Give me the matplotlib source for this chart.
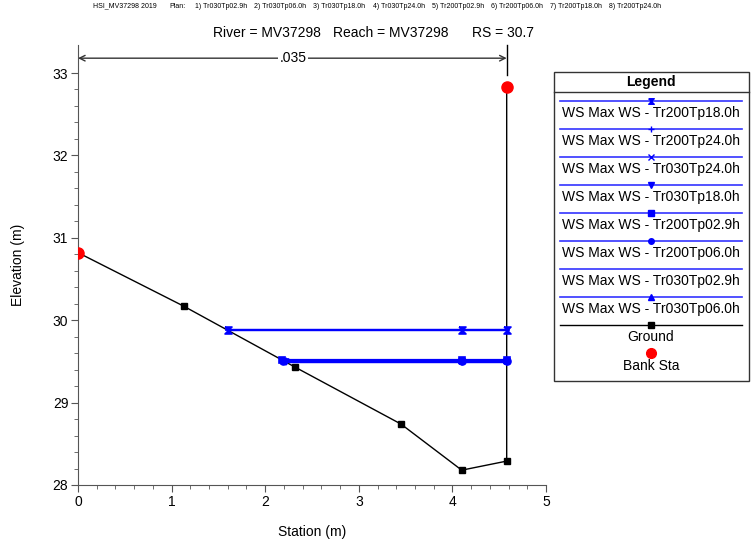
import matplotlib.pyplot as plt
from matplotlib.path import Path

plt.rcParams['font.family'] = ['Liberation Sans', 'DejaVu Sans']

# ---------------------------
# DATA
# ---------------------------
ground_sta = [0.0, 1.13, 2.32, 3.45, 4.10, 4.58, 4.58]
ground_elev = [30.82, 30.17, 29.43, 28.74, 28.18, 28.29, 32.83]

bank_sta = [0.0, 4.58]
bank_elev = [30.82, 32.83]

ws_names = ["Tr200Tp18.0h", "Tr200Tp24.0h", "Tr030Tp24.0h", "Tr030Tp18.0h",
            "Tr200Tp02.9h", "Tr200Tp06.0h", "Tr030Tp02.9h", "Tr030Tp06.0h"]
ws_elev = [29.88, 29.88, 29.50, 29.49, 29.52, 29.51, 29.49, 29.50]
ws_left = [1.60, 1.60, 2.20, 2.22, 2.18, 2.19, 2.22, 2.20]
ws_right = [4.10, 4.58]

plans = ["1) Tr030Tp02.9h", "2) Tr030Tp06.0h", "3) Tr030Tp18.0h", "4) Tr030Tp24.0h",
         "5) Tr200Tp02.9h", "6) Tr200Tp06.0h", "7) Tr200Tp18.0h", "8) Tr200Tp24.0h"]

# hourglass marker (x with bars)
hourglass = Path([(-1, 1), (1, 1), (-1, -1), (1, -1), (-1, 1)],
                 [Path.MOVETO, Path.LINETO, Path.LINETO, Path.LINETO, Path.LINETO])
ws_markers = [hourglass, "+", "x", "v", "s", "o", None, "^"]

# ---------------------------
# PLOT
# ---------------------------
fig = plt.figure(figsize=(7.55, 5.4), dpi=100)
ax = fig.add_axes([78 / 755, 1 - 485 / 540, 468 / 755, 440 / 540])

ax.plot(ground_sta, ground_elev, color="black", lw=1, marker="s", ms=4.5, zorder=3)
for name, el, xl, mk in zip(ws_names, ws_elev, ws_left, ws_markers):
    xs = [xl] + ws_right
    ax.plot(xs, [el] * len(xs), color="#0000ff", lw=1.6, marker=mk, ms=5,
            mew=1.2, zorder=4)
ax.plot(bank_sta, bank_elev, ls="none", marker="o", color="red", ms=8, zorder=5)

ax.set_xlim(0, 5)
ax.set_ylim(28, 33.34)
ax.set_xticks([0, 1, 2, 3, 4, 5])
ax.set_yticks([28, 29, 30, 31, 32, 33])
ax.set_xticks([i * 0.2 for i in range(26)], minor=True)
ax.set_yticks([28 + i * 0.2 for i in range(26)], minor=True)
ax.tick_params(which="major", length=5, color="#555555", labelsize=10, pad=2)
ax.tick_params(which="minor", length=3, color="#555555")
for s in ["top", "right"]:
    ax.spines[s].set_visible(False)
for s in ["left", "bottom"]:
    ax.spines[s].set_color("#555555")
ax.set_xlabel("Station (m)", fontsize=10, labelpad=12)
ax.set_ylabel("Elevation (m)", fontsize=10, labelpad=20)

# Manning's n arrow
ax.annotate("", xy=(0, 33.18), xytext=(4.58, 33.18),
            arrowprops=dict(arrowstyle="<->", color="#333333", lw=1,
                            shrinkA=0, shrinkB=0))
ax.text(2.3, 33.18, ".035", ha="center", va="center", fontsize=10,
        bbox=dict(facecolor="white", edgecolor="none", pad=1))
ax.plot([4.58, 4.58], [32.98, 33.34], color="black", lw=1, clip_on=False)

# ---------------------------
# OVERLAY (titles + legend) in pixel coords
# ---------------------------
ov = fig.add_axes([0, 0, 1, 1], zorder=10)
ov.set_xlim(0, 755)
ov.set_ylim(540, 0)
ov.axis("off")
ov.patch.set_alpha(0)

ov.text(93, 6, "HSI_MV37298 2019", fontsize=5, va="center")
ov.text(169, 6, "Plan:", fontsize=5, va="center")
for i, p in enumerate(plans):
    ov.text(195 + i * 59.2, 6, p, fontsize=5, va="center")

ov.text(213, 33, "River = MV37298", fontsize=10, va="center")
ov.text(333, 33, "Reach = MV37298", fontsize=10, va="center")
ov.text(472, 33, "RS = 30.7", fontsize=10, va="center")

# legend box
ov.add_patch(plt.Rectangle((554, 72), 195, 309, fill=False, edgecolor="#333333", lw=1))
ov.plot([554, 749], [92, 92], color="#333333", lw=1)
ov.text(651, 82, "Legend", ha="center", va="center", fontsize=10, fontweight="bold")
for i, (name, mk) in enumerate(zip(ws_names, ws_markers)):
    y = 100.5 + i * 28
    ov.plot([560, 742], [y, y], color="#3333ff", lw=1.2)
    if mk is not None:
        ov.plot([651], [y], color="#0000ff", marker=mk, ms=4, mew=1)
    ov.text(651, y + 13, "WS Max WS - " + name, ha="center", va="center", fontsize=10)
ov.plot([560, 742], [324.5, 324.5], color="black", lw=1)
ov.plot([651], [324.5], color="black", marker="s", ms=4)
ov.text(651, 337, "Ground", ha="center", va="center", fontsize=10)
ov.plot([651], [353], color="red", marker="o", ms=7, ls="none")
ov.text(651, 366, "Bank Sta", ha="center", va="center", fontsize=10)

plt.savefig("out.png", dpi=100)
